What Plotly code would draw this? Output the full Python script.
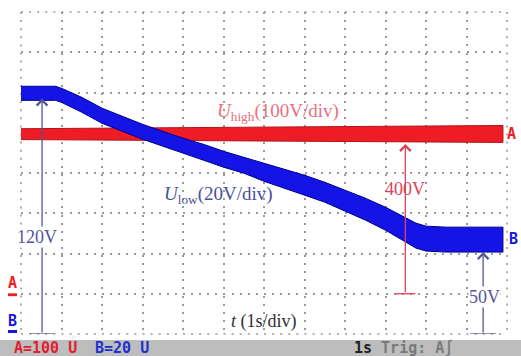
import plotly.graph_objects as go

# ---- data (time in s, 1 s/div; A in V at 100 V/div; B in V at 20 V/div) ----
red_t = [0, 3, 6, 9, 11.9]
red_upper = [410, 412, 414, 416, 418]
red_lower = [383, 382, 380, 378, 376]

blue_t = [0, 0.85, 1.0, 1.5, 2.0, 2.5, 3.0, 3.5, 4.0, 4.5, 5.0, 5.5, 6.0, 6.5,
          7.0, 7.5, 8.0, 8.5, 9.0, 9.5, 9.75, 10.0, 10.5, 11.9]
blue_upper = [123.1, 123.1, 122.1, 117.6, 112.2, 108.2, 104.2, 100.7, 97.3, 94.3,
              90.8, 87.8, 84.9, 81.9, 78.9, 75.4, 71.5, 67.5, 63.0, 57.6, 55.1,
              53.6, 53.1, 53.1]
blue_lower = [116.1, 116.1, 115.1, 110.2, 104.7, 100.7, 96.8, 93.3, 89.8, 86.4,
              82.9, 79.9, 75.9, 72.5, 69.0, 65.5, 61.0, 56.6, 51.6, 45.7, 42.7,
              41.2, 40.7, 40.7]

arrow_120_t = 0.52
arrow_120_top = 117
arrow_400_t = 9.49
arrow_400_top = 372
arrow_50_t = 11.41
arrow_50_top = 40.7

X_RANGE = [0, 12]
YA_RANGE = [-100, 700]
YB_RANGE = [0, 160]

RED = "#ee1c24"
BLUE = "#1414e6"
RED_ANN = "#e0405a"
BLUE_ANN = "#555598"
GRID = "#9a9a9a"
DASH = "2px,6.1px"

fig = go.Figure()

fig.add_trace(go.Scatter(
    x=red_t + red_t[::-1], y=red_upper + red_lower[::-1],
    fill="toself", fillcolor=RED, mode="lines",
    line=dict(color="#b41218", width=1), yaxis="y", hoverinfo="skip",
    showlegend=False))

fig.add_trace(go.Scatter(
    x=blue_t + blue_t[::-1], y=blue_upper + blue_lower[::-1],
    fill="toself", fillcolor=BLUE, mode="lines",
    line=dict(color="#00008c", width=1), yaxis="y2", hoverinfo="skip",
    showlegend=False))

grid = dict(showgrid=True, gridcolor=GRID, gridwidth=1.6,
            griddash=DASH, zeroline=False, showticklabels=False,
            ticks="", showline=False)

fig.update_layout(
    width=521, height=356,
    margin=dict(l=21, r=14, t=12, b=22),
    paper_bgcolor="white", plot_bgcolor="white",
    xaxis=dict(range=X_RANGE, dtick=1, tick0=0, **grid),
    yaxis=dict(range=YA_RANGE, dtick=100, tick0=0, **grid),
    yaxis2=dict(range=YB_RANGE, overlaying="y", visible=False),
    showlegend=False,
)

serif = "Liberation Serif"
mono = "DejaVu Sans Mono"
ann = []

# arrows
for t, top, yref, col in [(arrow_120_t, arrow_120_top, "y2", BLUE_ANN),
                          (arrow_50_t, arrow_50_top, "y2", BLUE_ANN),
                          (arrow_400_t, arrow_400_top, "y", RED_ANN)]:
    ann.append(dict(x=t, y=top, ax=t, ay=0, xref="x", yref=yref, axref="x",
                    ayref=yref, text="", showarrow=True, arrowhead=4,
                    arrowsize=1.6, arrowwidth=1.3, arrowcolor=col))

# labels
ann.append(dict(x=0.39, y=48, xref="x", yref="y2", text="120V", showarrow=False,
                font=dict(family=serif, size=18, color=BLUE_ANN),
                bgcolor="white", borderpad=0))
ann.append(dict(x=11.44, y=18.4, xref="x", yref="y2", text="50V", showarrow=False,
                font=dict(family=serif, size=18, color=BLUE_ANN),
                bgcolor="white", borderpad=0))
ann.append(dict(x=arrow_400_t, y=260, xref="x", yref="y", text="400V",
                showarrow=False, font=dict(family=serif, size=18, color=RED_ANN)))
ann.append(dict(x=4.8, y=452, xref="x", yref="y", xanchor="left",
                text="<i>U</i><sub>high</sub>(100V/div)", showarrow=False,
                font=dict(family=serif, size=19, color="#e8707f")))
ann.append(dict(x=3.48, y=69, xref="x", yref="y2", xanchor="left",
                text="<i>U</i><sub>low</sub>(20V/div)", showarrow=False,
                font=dict(family=serif, size=19, color="#4a509c")))
ann.append(dict(x=6.0, y=6.0, xref="x", yref="y2",
                text="<i>t</i> (1s/div)", showarrow=False,
                font=dict(family=serif, size=18, color="#303030")))

# channel markers
ann.append(dict(x=0.9959, y=397, xref="paper", yref="y", xanchor="left",
                text="<b>A</b>", showarrow=False,
                font=dict(family=mono, size=15, color=RED)))
ann.append(dict(x=1.0, y=47, xref="paper", yref="y2", xanchor="left",
                text="<b>B</b>", showarrow=False,
                font=dict(family=mono, size=15, color=BLUE)))
ann.append(dict(x=-0.03, y=0, xref="paper", yref="y", xanchor="left",
                yanchor="bottom", yshift=0, text="<b>A</b>", showarrow=False,
                font=dict(family=mono, size=15, color=RED)))
ann.append(dict(x=-0.03, y=0, xref="paper", yref="y2", xanchor="left",
                yanchor="bottom", yshift=2, text="<b>B</b>", showarrow=False,
                font=dict(family=mono, size=15, color=BLUE)))

# status bar text
ann.append(dict(x=-0.0185, y=-0.0435, xref="paper", yref="paper",
                xanchor="left", yanchor="middle", text="<b>A=100 U</b>",
                showarrow=False, font=dict(family=mono, size=15, color="#e02030")))
ann.append(dict(x=0.148, y=-0.0435, xref="paper", yref="paper",
                xanchor="left", yanchor="middle", text="<b>B=20 U</b>",
                showarrow=False, font=dict(family=mono, size=15, color="#2030d0")))
ann.append(dict(x=0.681, y=-0.0435, xref="paper", yref="paper",
                xanchor="left", yanchor="middle",
                text="<b>1s</b> <span style='color:#7a7a7a'><b>Trig: A∫</b></span>",
                showarrow=False, font=dict(family=mono, size=15, color="#202020")))

shapes = []
# status bar
shapes.append(dict(type="rect", xref="paper", yref="paper",
                   x0=-0.05, x1=1.04, y0=-0.0186, y1=-0.075,
                   fillcolor="#bdbdbd", line=dict(width=0), layer="below"))
# dotted border of the graticule (edge grid lines are not drawn by plotly)
edge = dict(color=GRID, width=1.6, dash=DASH)
shapes.append(dict(type="line", xref="paper", yref="paper", x0=0, x1=1, y0=1, y1=1,
                   line=edge, layer="below"))
shapes.append(dict(type="line", xref="paper", yref="paper", x0=0, x1=1, y0=0, y1=0,
                   line=edge, layer="below"))
shapes.append(dict(type="line", xref="paper", yref="paper", x0=0, x1=0, y0=1, y1=0,
                   line=edge, layer="below"))
shapes.append(dict(type="line", xref="paper", yref="paper", x0=1, x1=1, y0=1, y1=0,
                   line=edge, layer="below"))
# T-bars at arrow bases
shapes.append(dict(type="line", xref="x", yref="y2", x0=arrow_120_t - 0.3,
                   x1=arrow_120_t + 0.3, y0=0, y1=0,
                   line=dict(color=BLUE_ANN, width=1.3)))
shapes.append(dict(type="line", xref="x", yref="y2", x0=arrow_50_t - 0.32,
                   x1=arrow_50_t + 0.32, y0=0, y1=0,
                   line=dict(color=BLUE_ANN, width=1.3)))
shapes.append(dict(type="line", xref="x", yref="y", x0=arrow_400_t - 0.25,
                   x1=arrow_400_t + 0.25, y0=0, y1=0,
                   line=dict(color=RED_ANN, width=1.3)))
# ground marker bars
shapes.append(dict(type="rect", xref="paper", yref="y", x0=-0.0267, x1=-0.0082,
                   y0=-6, y1=1, fillcolor=RED, line=dict(width=0)))
shapes.append(dict(type="rect", xref="paper", yref="y2", x0=-0.0267, x1=-0.0082,
                   y0=0.5, y1=2.0, fillcolor=BLUE, line=dict(width=0)))

fig.update_layout(annotations=ann, shapes=shapes)

fig.write_html("out.html")
